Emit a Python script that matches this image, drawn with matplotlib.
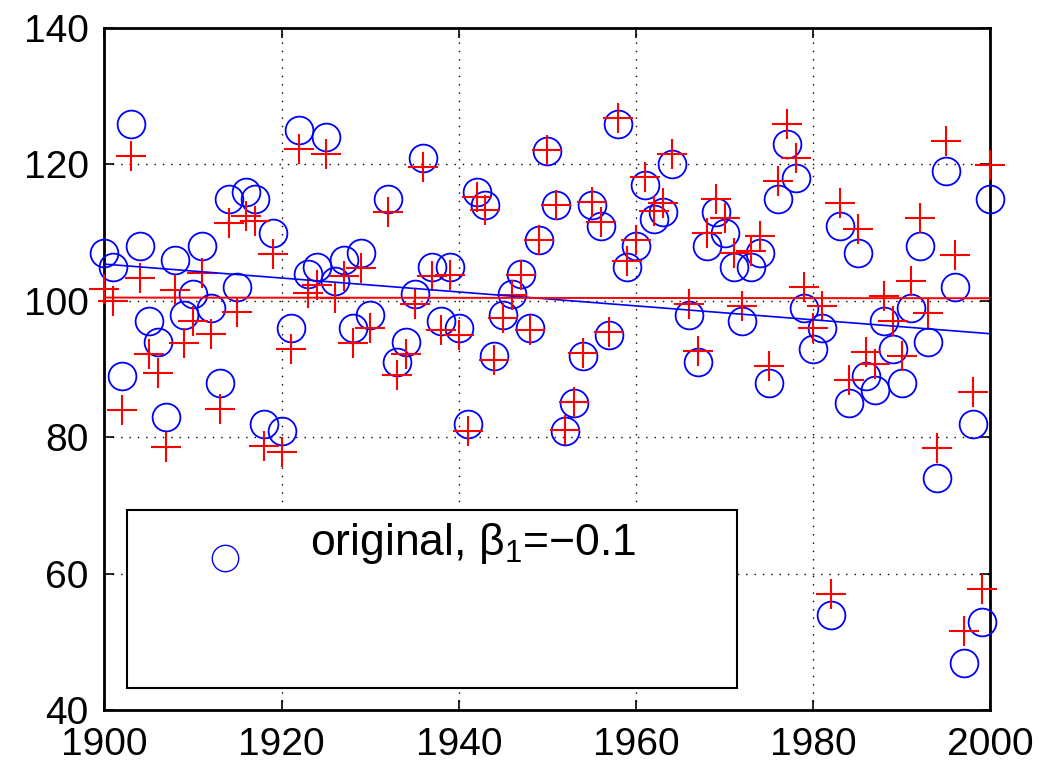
import matplotlib
matplotlib.use("Agg")
import matplotlib.pyplot as plt
from matplotlib.patches import Rectangle

# ---------------- data ----------------
years = [y for y in range(1900, 2001) if y not in (1931, 1965)]
original = [107, 105, 89, 126, 108, 97, 94, 83, 106, 98,
            101, 108, 99, 88, 115, 102, 116, 115, 82, 110,
            81, 96, 125, 104, 105, 124, 103, 106, 96, 107,
            98, 115, 91, 94, 101, 121, 105, 97, 105,
            96, 82, 116, 114, 92, 98, 101, 104, 96, 109,
            122, 114, 81, 85, 92, 114, 111, 95, 126, 105,
            108, 117, 112, 113, 120, 98, 91, 108, 113,
            110, 105, 97, 105, 107, 88, 115, 123, 118, 99,
            93, 96, 54, 111, 85, 107, 89, 87, 97, 93,
            88, 99, 108, 94, 74, 119, 102, 47, 82, 53,
            115]
adjusted = [101.7, 100.0, 84.0, 121.2, 103.3, 92.3, 89.4, 78.6, 101.6, 93.8,
            97.0, 104.1, 95.1, 84.2, 111.4, 98.4, 112.5, 111.7, 78.7, 106.9,
            77.8, 92.9, 122.2, 101.1, 102.4, 121.5, 100.5, 103.6, 93.8, 104.8,
            96.0, 113.1, 89.2, 92.3, 99.5, 119.7, 103.7, 95.7, 103.8,
            95.0, 81.0, 115.2, 113.4, 91.4, 97.5, 100.9, 103.8, 95.8, 108.9,
            122.1, 114.1, 81.1, 85.2, 92.4, 114.5, 111.5, 95.5, 126.8, 105.9,
            109.0, 118.2, 113.2, 114.4, 121.5, 99.6, 92.6, 109.9, 115.0,
            112.1, 107.0, 99.3, 107.3, 109.5, 90.5, 117.6, 125.9, 121.0, 102.0,
            96.0, 99.2, 57.0, 114.4, 88.4, 110.5, 92.5, 90.8, 100.7, 97.0,
            92.0, 103.0, 112.2, 98.3, 78.4, 123.5, 106.7, 51.6, 86.7, 57.8,
            119.9]
fit_years = [1900, 2000]
fit_original = [105.4, 95.2]
fit_adjusted = [100.5, 100.4]
xticks = [1900, 1920, 1940, 1960, 1980, 2000]
yticks = [40, 60, 80, 100, 120, 140]
legend_label = "original, β$_{1}$=\u22120.1"

# ---------------- style ----------------
plt.rcParams['font.family'] = ['Liberation Sans', 'DejaVu Sans']
plt.rcParams['mathtext.fontset'] = 'custom'
plt.rcParams['mathtext.rm'] = 'Liberation Sans'
plt.rcParams['mathtext.it'] = 'Liberation Sans'

fig = plt.figure(figsize=(10.5, 7.73), dpi=100)
ax = fig.add_axes([0.0995, 0.0809, 0.8438, 0.8829])

ax.plot(years, original, linestyle='none', marker='o', markersize=20,
        markerfacecolor='none', markeredgecolor='#0000ff', markeredgewidth=1.3,
        zorder=3, clip_on=False)
ax.plot(years, adjusted, linestyle='none', marker='+', markersize=21,
        markeredgecolor='#ff0000', markeredgewidth=1.5, zorder=4, clip_on=False)
ax.plot(fit_years, fit_original, color='#0000ff', lw=1.2, zorder=5)
ax.plot(fit_years, fit_adjusted, color='#ff0000', lw=1.4, zorder=5)

ax.set_xlim(1900, 2000)
ax.set_ylim(40, 140)
ax.set_xticks(xticks)
ax.set_yticks(yticks)
ax.tick_params(direction='in', length=7, width=1.2, labelsize=28,
               top=True, right=True)
ax.tick_params(axis='x', pad=12)
ax.tick_params(axis='y', pad=11.5)
for s in ax.spines.values():
    s.set_linewidth(2.0)
ax.grid(True, color='black', linestyle=(0, (1, 5)), linewidth=1.0, zorder=0)
ax.set_axisbelow(True)

# legend box (opaque, MATLAB style)
lx0, ly0, lw_, lh_ = 0.0254, 0.033, 0.6885, 0.2608
ax.add_patch(Rectangle((lx0, ly0), lw_, lh_, transform=ax.transAxes,
                       facecolor='white', edgecolor='black', lw=1.5,
                       zorder=10, clip_on=False))
ax.plot([0.136], [0.224], transform=ax.transAxes, linestyle='none',
        marker='o', markersize=19, markerfacecolor='none',
        markeredgecolor='#0000ff', markeredgewidth=1.0, zorder=11,
        clip_on=False)
ax.text(0.232, 0.244, legend_label, transform=ax.transAxes, fontsize=32,
        ha='left', va='center', zorder=11)

fig.savefig('out.png', dpi=100)
